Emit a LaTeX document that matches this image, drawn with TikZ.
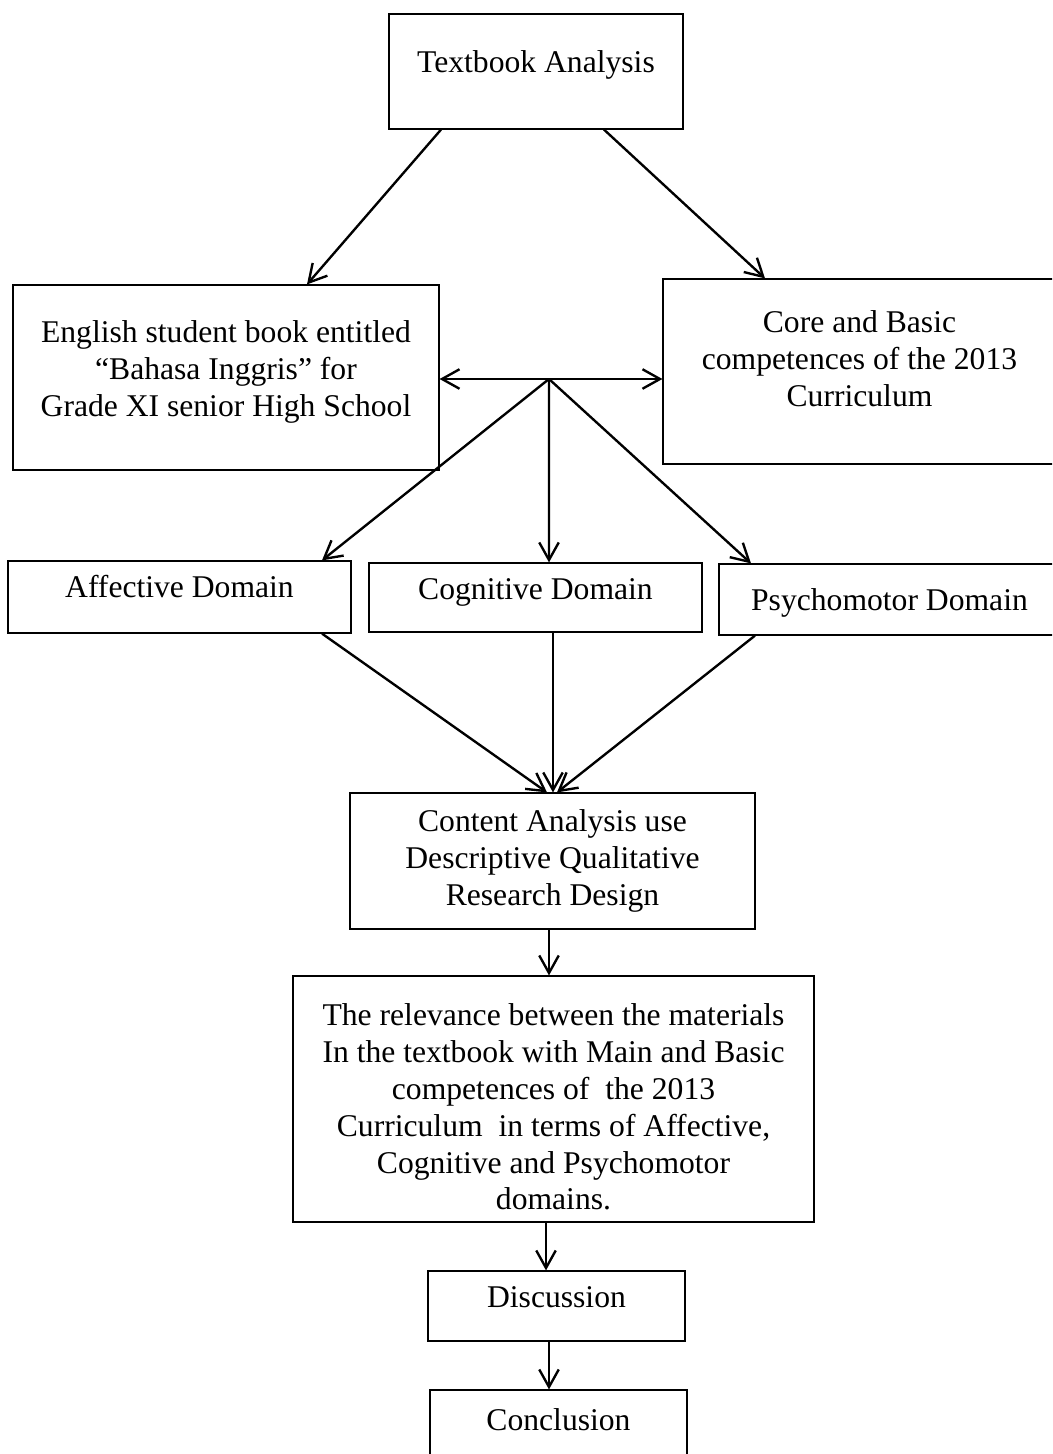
\documentclass[tikz,border=0pt]{standalone}
\usepackage{fontspec}
\setmainfont{Liberation Serif}
\usetikzlibrary{shapes,arrows.meta,calc}
\tikzstyle{block} = [rectangle, draw, line width=0.7pt, align=center,
    font=\fontsize{18}{21}\selectfont, inner sep=2pt]
\tikzstyle{line} = [draw, line width=1.35pt,
    -{Straight Barb[length=3.5mm, width=3.9mm, line width=1.35pt]}]
\tikzstyle{dline} = [draw, line width=1.35pt,
    {Straight Barb[length=3.5mm, width=3.9mm, line width=1.35pt]}-{Straight Barb[length=3.5mm, width=3.9mm, line width=1.35pt]}]

\begin{document}
\begin{tikzpicture}[x=0.02cm, y=-0.02cm]
    \useasboundingbox (0,0) rectangle (1052,1454);
    \clip (0,0) rectangle (1052,1454);
    % Place nodes
    \node [block, minimum width=5.88cm, minimum height=2.3cm, text depth=11pt] (text) at (536,71.5)
    {Textbook Analysis};
    \node [block, minimum width=8.52cm, minimum height=3.7cm] (book) at (226,377.5)
    {English student book entitled\\ ``Bahasa Inggris'' for\\
    Grade XI senior High School\rule[-10pt]{0pt}{10pt}};
    \node [block, minimum width=7.86cm, minimum height=3.7cm] (core) at (859.5,371.5)
    {Core and Basic\\ competences of the 2013\\ Curriculum\rule[-14.5pt]{0pt}{14.5pt}};
    \node [block, minimum width=6.86cm, minimum height=1.44cm, text depth=12pt] (affect) at (179.5,597)
    {Affective Domain};
    \node [block, minimum width=6.66cm, minimum height=1.38cm, text depth=10pt] (cognit) at (535.5,597.5)
    {Cognitive Domain};
    \node [block, minimum width=6.82cm, minimum height=1.42cm, text height=16pt] (psycho) at (889.5,599.5)
    {Psychomotor Domain};
    \node [block, minimum width=8.1cm, minimum height=2.72cm] (content) at (552.5,861)
    {Content Analysis use\\ Descriptive Qualitative\\ Research Design};
    \node [block, minimum width=10.42cm, minimum height=4.92cm] (relev) at (553.5,1099)
    {\rule{0pt}{21.5pt}The relevance between the materials\\ In the textbook with Main and Basic\\
    competences of \ the 2013\\ Curriculum \ in terms of Affective,\\
    Cognitive and Psychomotor\\ domains.};
    \node [block, minimum width=5.14cm, minimum height=1.4cm, text depth=10pt] (discuss) at (556.5,1306)
    {Discussion};
    \node [block, minimum width=5.14cm, minimum height=1.6cm, text depth=12pt] (concl) at (558.5,1430)
    {Conclusion};
    \coordinate (hub) at (549,379);

    % Draw edges
    \path [line] ($(text.south)+(-95,0)$) -- ($(book.north)+(81,0)$);
    \path [line] ($(text.south)+(68,0)$) -- ($(core.north)+(-94.5,0)$);
    \path [dline] (book.east |- hub) -- (core.west |- hub);
    \path [line] (hub) -- ($(affect.north)+(142.5,0)$);
    \path [line] (hub) -- ($(cognit.north)+(13.5,0)$);
    \path [line] (hub) -- ($(psycho.north)+(-138.5,0)$);
    \path [line] ($(affect.south)+(142.5,0)$) -- ($(content.north)+(-5.5,0)$);
    \path [line] ($(cognit.south)+(17.5,0)$) -- ($(content.north)+(0.5,0)$);
    \path [line] ($(psycho.south)+(-134.5,0)$) -- ($(content.north)+(4.5,0)$);
    \path [line] ($(content.south)+(-3.5,0)$) -- ($(relev.north)+(-4.5,0)$);
    \path [line] ($(relev.south)+(-7.5,0)$) -- ($(discuss.north)+(-10.5,0)$);
    \path [line] ($(discuss.south)+(-7.5,0)$) -- ($(concl.north)+(-9.5,0)$);
\end{tikzpicture}
\end{document}
